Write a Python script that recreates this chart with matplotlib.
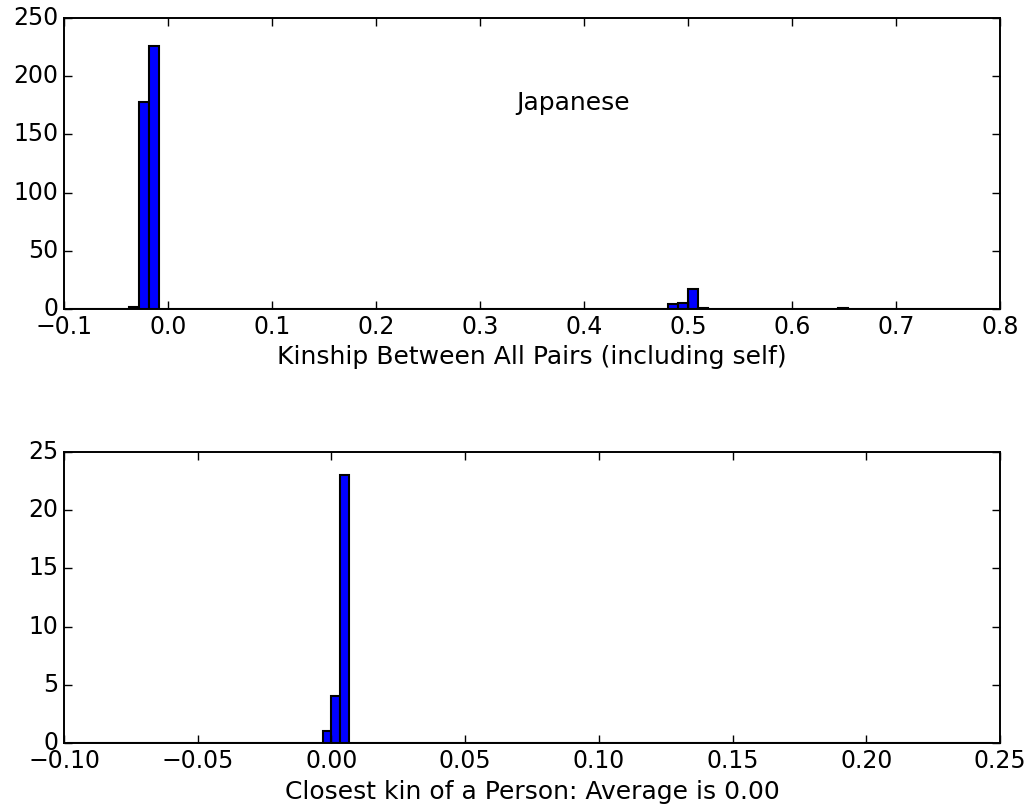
import numpy as np
import matplotlib
matplotlib.use('Agg')
import matplotlib.pyplot as plt

# top histogram: kinship between all pairs
top_width = 0.0096
top_left = [-0.0376, -0.0280, -0.0184, 0.4808, 0.4904, 0.5000, 0.5096, 0.6440]
top_counts = [2, 178, 226, 4, 5, 17, 1, 1]

# bottom histogram: closest kin of a person
bot_width = 0.0033
bot_left = [-0.0033, 0.0000, 0.0033]
bot_counts = [1, 4, 23]

plt.style.use('classic')
plt.rcParams['font.family'] = 'DejaVu Sans'


def full_hist(ax, left, counts, width, anchor, xmin, xmax):
    # bins over the whole axis range, empty ones give the baseline
    k0 = int(np.ceil((xmin - anchor) / width))
    k1 = int(np.floor((xmax - anchor) / width))
    edges = anchor + width * np.arange(k0, k1 + 1)
    heights = np.zeros(len(edges) - 1)
    for l, c in zip(left, counts):
        i = int(round((l - edges[0]) / width))
        heights[i] = c
    ax.hist(edges[:-1] + width / 2, bins=edges, weights=heights,
            color='blue', edgecolor='black', linewidth=1.5)
    ax.set_xlim(xmin, xmax)


fig = plt.figure(figsize=(10.34, 8.11), dpi=100, facecolor='white')

ax1 = fig.add_axes([0.0619, 0.619, 0.9052, 0.3588])
full_hist(ax1, top_left, top_counts, top_width, 0.5, -0.1, 0.8)
ax1.set_ylim(0, 250)
ax1.set_yticks(np.arange(0, 251, 50))
ax1.set_xticks(np.arange(-0.1, 0.81, 0.1))
ax1.set_xlabel('Kinship Between All Pairs (including self)', fontsize=18)
ax1.text(0.335, 171, 'Japanese', fontsize=18, ha='left', va='baseline')

ax2 = fig.add_axes([0.0619, 0.0838, 0.9052, 0.3589])
full_hist(ax2, bot_left, bot_counts, bot_width, 0.0, -0.1, 0.25)
ax2.set_ylim(0, 25)
ax2.set_yticks(np.arange(0, 26, 5))
ax2.set_xticks(np.arange(-0.1, 0.251, 0.05))
ax2.set_xlabel('Closest kin of a Person: Average is 0.00', fontsize=18)

for ax in (ax1, ax2):
    ax.tick_params(labelsize=17, length=6, width=1, pad=4)
    for s in ax.spines.values():
        s.set_linewidth(1.4)

fig.savefig('out.png', dpi=100, facecolor='white')
